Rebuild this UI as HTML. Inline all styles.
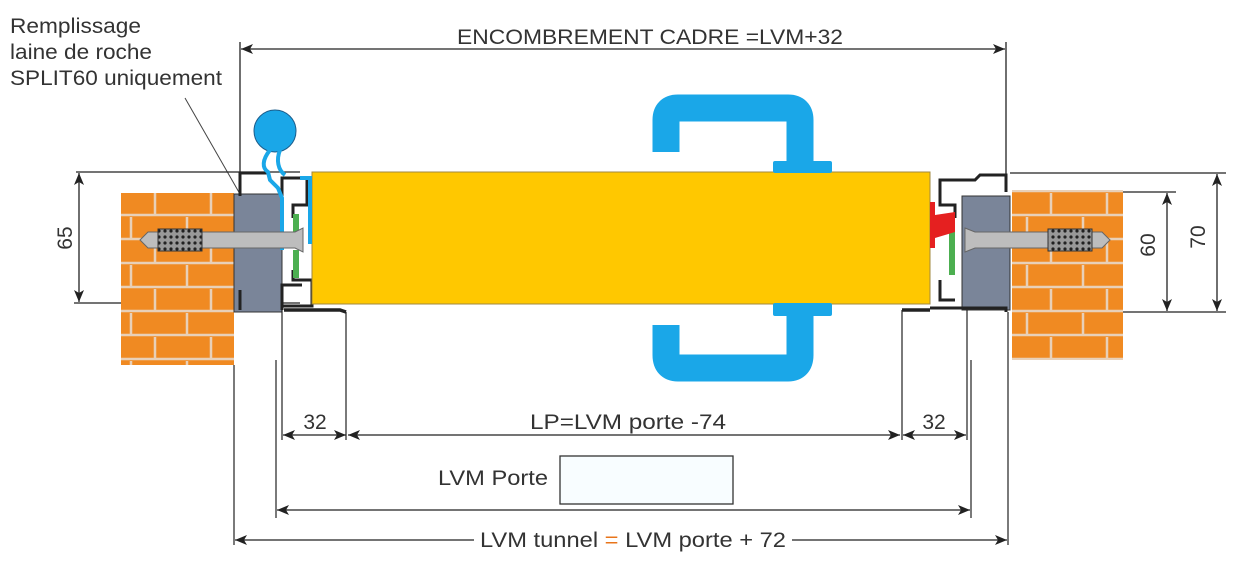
<!DOCTYPE html>
<html><head><meta charset="utf-8"><style>
html,body{margin:0;padding:0;background:#fff}
svg{display:block}
text{font-family:"Liberation Sans",Arial,sans-serif;fill:#333}
</style></head><body>
<svg width="1239" height="568" viewBox="0 0 1239 568" xmlns="http://www.w3.org/2000/svg">
<defs>
<marker id="a" viewBox="0 0 12 10" refX="12" refY="5" markerWidth="12" markerHeight="10" orient="auto-start-reverse" markerUnits="userSpaceOnUse">
<path d="M0,0 L12,5 L0,10 L3,5 Z" fill="#222"/></marker>
<pattern id="brick" width="56" height="48" patternUnits="userSpaceOnUse" x="121" y="193">
<rect width="56" height="48" fill="#f08a22"/>
<path d="M0,22 H56 M0,46 H56 M34,0 V22 M10,24 V46" stroke="#e8d0b8" stroke-width="2.5"/>
</pattern>
<pattern id="spr" width="6" height="6" patternUnits="userSpaceOnUse"><rect width="6" height="6" fill="#999"/><circle cx="3" cy="3" r="1.6" fill="#222"/></pattern>
</defs>

<!-- labels top-left -->
<text x="10" y="33" font-size="21" textLength="131" lengthAdjust="spacingAndGlyphs">Remplissage</text>
<text x="10" y="59" font-size="21" textLength="142" lengthAdjust="spacingAndGlyphs">laine de roche</text>
<text x="10" y="85" font-size="21" textLength="212" lengthAdjust="spacingAndGlyphs">SPLIT60 uniquement</text>
<line x1="185" y1="98" x2="252" y2="215" stroke="#444" stroke-width="1"/>

<!-- top dimension -->
<line x1="240" y1="42" x2="240" y2="310" stroke="#222" stroke-width="1.3"/>
<line x1="1006" y1="42" x2="1006" y2="192" stroke="#222" stroke-width="1.3"/>
<line x1="241" y1="49" x2="1005" y2="49" stroke="#222" stroke-width="1.3" marker-start="url(#a)" marker-end="url(#a)"/>
<rect x="450" y="22" width="400" height="26" fill="#fff"/>
<text x="457" y="44" font-size="21" textLength="386" lengthAdjust="spacingAndGlyphs">ENCOMBREMENT CADRE =LVM+32</text>

<!-- left 65 dim -->
<line x1="76" y1="172" x2="300" y2="172" stroke="#222" stroke-width="1.2"/>
<line x1="74" y1="303" x2="300" y2="303" stroke="#222" stroke-width="1.2"/>
<line x1="79" y1="173" x2="79" y2="302" stroke="#222" stroke-width="1.3" marker-start="url(#a)" marker-end="url(#a)"/>
<text x="72" y="238" font-size="21" text-anchor="middle" transform="rotate(-90 72 238)">65</text>

<!-- right dims -->
<line x1="1010" y1="173" x2="1226" y2="173" stroke="#222" stroke-width="1.2"/>
<line x1="1118" y1="192" x2="1176" y2="192" stroke="#222" stroke-width="1.2"/>
<line x1="1022" y1="312" x2="1226" y2="312" stroke="#222" stroke-width="1.2"/>
<line x1="1167" y1="193" x2="1167" y2="311" stroke="#222" stroke-width="1.3" marker-start="url(#a)" marker-end="url(#a)"/>
<line x1="1217" y1="174" x2="1217" y2="311" stroke="#222" stroke-width="1.3" marker-start="url(#a)" marker-end="url(#a)"/>
<text x="1162" y="252" font-size="21" text-anchor="middle" transform="rotate(-90 1155 252)">60</text>
<text x="1212" y="244" font-size="21" text-anchor="middle" transform="rotate(-90 1205 244)">70</text>

<!-- bricks -->
<rect x="121" y="193" width="113" height="172" fill="url(#brick)"/>
<rect x="1012" y="190" width="111" height="170" fill="url(#brick)"/>

<!-- gray blocks -->
<rect x="234" y="194" width="48" height="118" fill="#7a8599" stroke="#333" stroke-width="1"/>
<rect x="962" y="196" width="48" height="114" fill="#7a8599" stroke="#333" stroke-width="1"/>

<!-- frame profiles left -->
<path d="M240,196 V173 H268 M282,196 V178 H307 V205 H293 V218" fill="none" stroke="#222" stroke-width="3"/>
<path d="M240,290 V310 M282,310 V285 H302 M282,306 H312 V280 H293 V270" fill="none" stroke="#222" stroke-width="3"/>
<path d="M284,310 H340 L346,312" fill="none" stroke="#222" stroke-width="3.5"/>
<line x1="282" y1="310" x2="282" y2="440" stroke="#222" stroke-width="1.2"/>
<line x1="346" y1="312" x2="346" y2="440" stroke="#222" stroke-width="1.2"/>
<line x1="276" y1="360" x2="276" y2="518" stroke="#222" stroke-width="1.2"/>
<line x1="234" y1="365" x2="234" y2="545" stroke="#222" stroke-width="1.2"/>
<rect x="293" y="214" width="6" height="28" fill="#4caf50"/>
<rect x="293" y="250" width="6" height="28" fill="#4caf50"/>

<!-- frame profiles right -->
<path d="M1006,192 V175 H980 L975,180 H940 V205 H955 V218" fill="none" stroke="#222" stroke-width="3"/>
<path d="M940,280 V300 H955 M930,308 H1006 V312" fill="none" stroke="#222" stroke-width="3"/>
<path d="M902,310 H930" fill="none" stroke="#222" stroke-width="3.5"/>
<line x1="902" y1="310" x2="902" y2="440" stroke="#222" stroke-width="1.2"/>
<line x1="967" y1="310" x2="967" y2="440" stroke="#222" stroke-width="1.2"/>
<line x1="971" y1="360" x2="971" y2="518" stroke="#222" stroke-width="1.2"/>
<line x1="1008" y1="312" x2="1008" y2="545" stroke="#222" stroke-width="1.2"/>
<rect x="949" y="215" width="6" height="60" fill="#4caf50"/>

<!-- door -->
<rect x="312" y="172" width="618" height="132" fill="#ffc800" stroke="#a08840" stroke-width="1"/>
<rect x="930" y="202" width="5" height="46" fill="#e52020"/>
<path d="M935,215 L955,212 L955,232 L935,238 Z" fill="#e52020"/>

<!-- left blue seal / knob -->
<circle cx="275" cy="131" r="21" fill="#1aa7e8" stroke="#1c5c8a" stroke-width="1"/>
<path d="M270,150 C262,160 262,168 268,172 L270,180 L278,188 L282,198 L282,250" fill="none" stroke="#1aa7e8" stroke-width="4"/>
<path d="M280,150 C276,160 278,170 285,175" fill="none" stroke="#1aa7e8" stroke-width="4"/>
<path d="M300,178 H310 V244" fill="none" stroke="#1aa7e8" stroke-width="4"/>

<!-- screws -->
<path d="M140,240 L148,232 H295 L303,228 V252 L295,248 H148 Z" fill="#bdbdbd" stroke="#666" stroke-width="1"/>
<rect x="158" y="229" width="44" height="22" fill="url(#spr)" stroke="#333"/>
<path d="M1110,240 L1102,232 H975 L965,228 V252 L975,248 H1102 Z" fill="#bdbdbd" stroke="#666" stroke-width="1"/>
<rect x="1048" y="229" width="44" height="22" fill="url(#spr)" stroke="#333"/>

<!-- handle -->
<path d="M666,152 V120 Q666,108 678,108 H788 Q800,108 800,120 V162" fill="none" stroke="#1aa7e8" stroke-width="27" stroke-linejoin="round"/>
<rect x="773" y="161" width="59" height="12" rx="2" fill="#1aa7e8"/>
<rect x="773" y="303" width="59" height="13" rx="2" fill="#1aa7e8"/>
<path d="M666,325 V355 Q666,368 678,368 H788 Q800,368 800,355 V314" fill="none" stroke="#1aa7e8" stroke-width="27" stroke-linejoin="round"/>

<!-- bottom dims -->
<line x1="283" y1="435" x2="346" y2="435" stroke="#222" stroke-width="1.3" marker-start="url(#a)" marker-end="url(#a)"/>
<text x="315" y="429" font-size="21" text-anchor="middle">32</text>
<line x1="348" y1="435" x2="900" y2="435" stroke="#222" stroke-width="1.3" marker-start="url(#a)" marker-end="url(#a)"/>
<text x="530" y="429" font-size="21" textLength="196" lengthAdjust="spacingAndGlyphs">LP=LVM porte -74</text>
<line x1="903" y1="435" x2="966" y2="435" stroke="#222" stroke-width="1.3" marker-start="url(#a)" marker-end="url(#a)"/>
<text x="934" y="429" font-size="21" text-anchor="middle">32</text>

<text x="438" y="485" font-size="21" textLength="110" lengthAdjust="spacingAndGlyphs">LVM Porte</text>
<rect x="560" y="456" width="173" height="48" fill="#f8fdff" stroke="#333" stroke-width="1.3"/>
<line x1="277" y1="510" x2="970" y2="510" stroke="#222" stroke-width="1.3" marker-start="url(#a)" marker-end="url(#a)"/>

<line x1="235" y1="540" x2="1007" y2="540" stroke="#222" stroke-width="1.3" marker-start="url(#a)" marker-end="url(#a)"/>
<rect x="474" y="526" width="318" height="26" fill="#fff"/>
<text x="480" y="547" font-size="21" textLength="306" lengthAdjust="spacingAndGlyphs">LVM tunnel <tspan fill="#e8741a">=</tspan> LVM porte + 72</text>
</svg>
</body></html>
